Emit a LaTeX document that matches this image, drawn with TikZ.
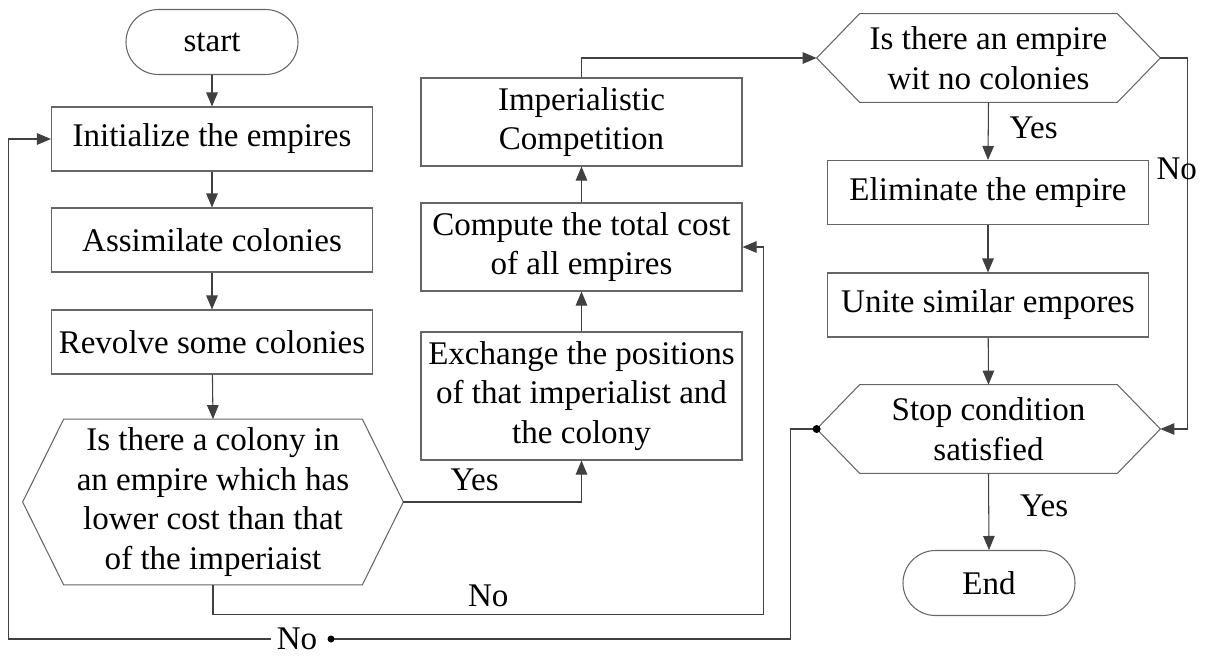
\documentclass[tikz,border=0pt]{standalone}
\usepackage{fontspec}
\setmainfont{Liberation Serif}
\usetikzlibrary{arrows.meta}

\newcommand{\hexoutline}[2]{%
  \draw[outline] ([xshift=#2]#1.north west) -- ([xshift=-#2]#1.north east) -- (#1.east)
    -- ([xshift=-#2]#1.south east) -- ([xshift=#2]#1.south west) -- (#1.west) -- cycle;}

\begin{document}
\begin{tikzpicture}[
    x=0.2mm, y=-0.2mm,
    font=\fontsize{18.8}{22.5}\selectfont,
    outline/.style={draw=black!60, line width=0.6pt},
    process/.style={rectangle, outline, minimum width=64.2mm, minimum height=12.8mm,
        align=center, inner sep=0pt},
    terminal/.style={rectangle, outline, rounded corners=6.5mm, minimum width=34.4mm,
        minimum height=13mm, inner sep=0pt},
    decision/.style={rectangle, minimum width=68.6mm, minimum height=17.6mm,
        align=center, inner sep=0pt},
    link/.style={draw=black!75, line width=0.6pt},
    arrow/.style={link, -{Triangle[length=2.8mm, width=2.3mm]}},
    junction/.style={fill=black}
]
\useasboundingbox (0,0) rectangle (1205,657);

\node (Start) [terminal] at (212,42) {start};
\node (Init) [process] at (212,139) {Initialize the empires};
\node (Assimilate) [process] at (212,240) {Assimilate colonies};
\node (Revolve) [process] at (212,342) {Revolve some colonies};
\node (Decision01) [decision, minimum width=76mm, minimum height=33mm] at (213,502)
  {Is there a colony in\\an empire which has\\lower cost than that\\of the imperiaist};
\node (Exchange) [process, minimum height=25.6mm] at (581.5,396)
  {Exchange the positions\\of that imperialist and\\the colony};
\node (Compute) [process, minimum height=17.6mm] at (581.5,247)
  {Compute the total cost\\of all empires};
\node (Competition) [process, minimum height=17.6mm] at (581.5,122)
  {Imperialistic\\Competition};
\node (Decision02) [decision] at (988.5,58) {Is there an empire\\wit no colonies};
\node (Eliminate) [process] at (988,192.5) {Eliminate the empire};
\node (Unite) [process] at (988,305) {Unite similar empores};
\node (Decision03) [decision] at (988.5,429) {Stop condition\\satisfied};
\node (End) [terminal] at (989,583) {End};

\hexoutline{Decision01}{8.2mm}
\hexoutline{Decision02}{8.6mm}
\hexoutline{Decision03}{8.6mm}

\draw[arrow] (Start) -- (Init);
\draw[arrow] (Init) -- (Assimilate);
\draw[arrow] (Assimilate) -- (Revolve);
\draw[arrow] (Revolve) -- (Decision01.north);
\draw[arrow] (Decision01.east) -| node[pos=0.2, above=1mm] {Yes} (Exchange.south);
\draw[arrow] (Exchange) -- (Compute);
\draw[arrow] (Compute) -- (Competition);
\draw[arrow] (Competition.north) |- (Decision02.west);
\draw[arrow] (Decision01.south) -- ++(0,30) -| node[pos=0.25, above=0.4mm] {No}
  ([xshift=4.2mm]Compute.east) -- (Compute.east);
\draw[arrow] (Decision02.south) -- node[right=3mm, pos=0.45] {Yes} (Eliminate.north);
\draw[arrow] (Eliminate) -- (Unite);
\draw[arrow] (Unite) -- (Decision03.north);
\draw[arrow] (Decision03.south) -- node[right=5mm, pos=0.42] {Yes} (End.north);
\draw[arrow] (Decision02.east) -- ++(27,0) |- node[pos=0.15, left=-3.2mm] {No}
  (Decision03.east);

\node (NoLabel) at (297,639) {No};
\coordinate (Dot01) at (331,639);
\draw[link] (Decision03.west) -- ++(-26,0) |- (Dot01);
\fill[junction] (Decision03.west) circle (0.8mm);
\fill[junction] (Dot01) circle (0.7mm);
\draw[arrow] (NoLabel.west) -| ([xshift=-8.4mm]Init.west) -- (Init.west);

\end{tikzpicture}
\end{document}
